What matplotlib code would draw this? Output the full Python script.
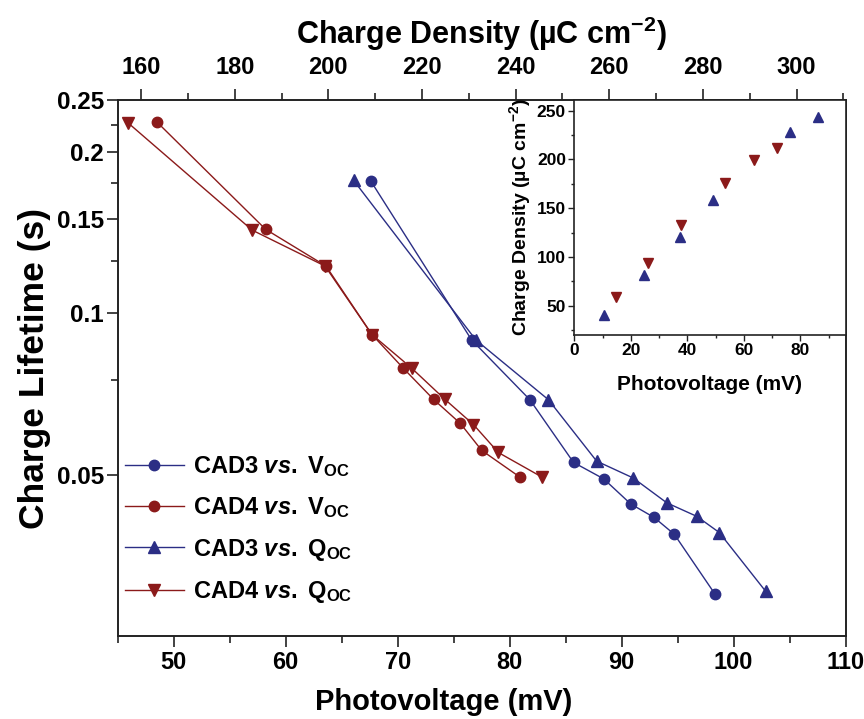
import matplotlib
matplotlib.use('Agg')
import matplotlib.pyplot as plt
from matplotlib.ticker import FixedLocator, NullFormatter, MultipleLocator

# main plot: lifetime vs photovoltage (circles, bottom axis)
cad3_voc_mv = [67.6, 76.6, 81.8, 85.7, 88.4, 90.8, 92.9, 94.7, 98.3]
cad3_voc_tau = [0.1765, 0.0892, 0.0690, 0.0527, 0.0491, 0.0441, 0.0416, 0.0387, 0.0300]
cad4_voc_mv = [48.5, 58.2, 63.6, 67.7, 70.5, 73.2, 75.6, 77.5, 80.9]
cad4_voc_tau = [0.2275, 0.1435, 0.1225, 0.0913, 0.0790, 0.0691, 0.0623, 0.0555, 0.0495]

# lifetime vs charge density (triangles, top axis)
cad3_qoc = [205.4, 231.5, 247.0, 257.3, 265.1, 272.3, 278.7, 283.5, 293.4]
cad3_qoc_tau = [0.1770, 0.0892, 0.0690, 0.0530, 0.0493, 0.0443, 0.0418, 0.0390, 0.0303]
cad4_qoc = [157.3, 183.7, 199.3, 209.3, 217.8, 224.9, 231.0, 236.3, 245.6]
cad4_qoc_tau = [0.2263, 0.1430, 0.1225, 0.0913, 0.0790, 0.0691, 0.0620, 0.0550, 0.0495]

# inset: charge density vs photovoltage
ins_cad3_mv = [10.6, 24.5, 37.5, 48.9, 76.2, 86.2]
ins_cad3_q = [40, 82, 120, 158, 228, 244]
ins_cad4_mv = [14.7, 26.0, 37.8, 53.4, 63.7, 71.8]
ins_cad4_q = [59, 94, 133, 176, 199, 212]

y_ticks = [0.05, 0.1, 0.15, 0.2, 0.25]
y_tick_labels = ['0.05', '0.1', '0.15', '0.2', '0.25']
y_minor = [0.075, 0.125, 0.175, 0.225]

blue = '#2B2E85'
red = '#8B1A1A'
axis_col = '#222222'

plt.rcParams['font.family'] = ['Liberation Sans', 'DejaVu Sans']
plt.rcParams['font.weight'] = 'bold'
plt.rcParams['axes.labelweight'] = 'bold'
plt.rcParams['mathtext.fontset'] = 'custom'
plt.rcParams['mathtext.rm'] = 'Liberation Sans:bold'
plt.rcParams['mathtext.bf'] = 'Liberation Sans:bold'
plt.rcParams['mathtext.it'] = 'Liberation Sans:italic:bold'

fig = plt.figure(figsize=(8.64, 7.19), dpi=100)
ax = fig.add_axes([0.1362, 0.1154, 0.8426, 0.7455])
ax2 = ax.twiny()

l1, = ax.plot(cad3_voc_mv, cad3_voc_tau, '-o', color=blue, lw=1, ms=7.5, label=r'CAD3 $\mathit{vs.}$ V$_{\mathrm{OC}}$')
l2, = ax.plot(cad4_voc_mv, cad4_voc_tau, '-o', color=red, lw=1, ms=7.5, label=r'CAD4 $\mathit{vs.}$ V$_{\mathrm{OC}}$')
l3, = ax2.plot(cad3_qoc, cad3_qoc_tau, '-^', color=blue, lw=1, ms=9, label=r'CAD3 $\mathit{vs.}$ Q$_{\mathrm{OC}}$')
l4, = ax2.plot(cad4_qoc, cad4_qoc_tau, '-v', color=red, lw=1, ms=9, label=r'CAD4 $\mathit{vs.}$ Q$_{\mathrm{OC}}$')

ax.set_yscale('log')
ax.set_ylim(0.025, 0.25)
ax.set_xlim(45, 110)
ax2.set_xlim(155, 310.5)

ax.yaxis.set_major_locator(FixedLocator(y_ticks))
ax.set_yticklabels(y_tick_labels)
ax.yaxis.set_minor_locator(FixedLocator(y_minor))
ax.yaxis.set_minor_formatter(NullFormatter())
ax.xaxis.set_major_locator(MultipleLocator(10))
ax.xaxis.set_minor_locator(MultipleLocator(5))
ax2.xaxis.set_major_locator(MultipleLocator(20))
ax2.xaxis.set_minor_locator(MultipleLocator(10))

for a in (ax, ax2):
    for s in a.spines.values():
        s.set_linewidth(1.2)
        s.set_color(axis_col)
ax.tick_params(axis='both', which='major', direction='out', length=8, width=1.2, color=axis_col)
ax.tick_params(axis='both', which='minor', direction='out', length=5, width=1.2, color=axis_col)
ax.tick_params(axis='x', labelsize=17, pad=3)
ax.tick_params(axis='y', labelsize=17.5, pad=2)
ax2.tick_params(axis='x', which='major', direction='out', length=8, width=1.2, color=axis_col,
                labelsize=17, pad=7)
ax2.tick_params(axis='x', which='minor', direction='out', length=5, width=1.2, color=axis_col)

ax.set_xlabel('Photovoltage (mV)', fontsize=21, labelpad=10)
ax.xaxis.label.set_x(0.448)
ax2.set_xlabel(r'Charge Density (µC cm$^{-2}$)', fontsize=22, labelpad=9)
ax.set_ylabel('Charge Lifetime (s)', fontsize=25.5, labelpad=4)

ax2.legend(handles=[l1, l2, l3, l4], loc='upper left', bbox_to_anchor=(0.0, 0.353),
           frameon=False, fontsize=17, handlelength=2.5, handletextpad=0.4,
           labelspacing=0.7, borderaxespad=0, borderpad=0.3)

# inset
ins = fig.add_axes([0.6647, 0.5341, 0.3141, 0.3268])
ins.plot(ins_cad3_mv, ins_cad3_q, '^', color=blue, ms=7, ls='none')
ins.plot(ins_cad4_mv, ins_cad4_q, 'v', color=red, ms=7, ls='none')
ins.set_xlim(0, 96)
ins.set_ylim(20, 261)
ins.xaxis.set_major_locator(MultipleLocator(20))
ins.xaxis.set_minor_locator(MultipleLocator(10))
ins.yaxis.set_major_locator(MultipleLocator(50))
ins.yaxis.set_minor_locator(MultipleLocator(25))
for s in ins.spines.values():
    s.set_linewidth(1.2)
    s.set_color(axis_col)
ins.tick_params(which='major', direction='out', length=4, width=1, labelsize=12.5, pad=2, color=axis_col)
ins.tick_params(which='minor', direction='out', length=2.5, width=1, color=axis_col)
ins.set_xlabel('Photovoltage (mV)', fontsize=15, labelpad=12)
ins.set_ylabel(r'Charge Density (µC cm$^{-2}$)', fontsize=14, labelpad=3)

fig.savefig('out.png', dpi=100)
